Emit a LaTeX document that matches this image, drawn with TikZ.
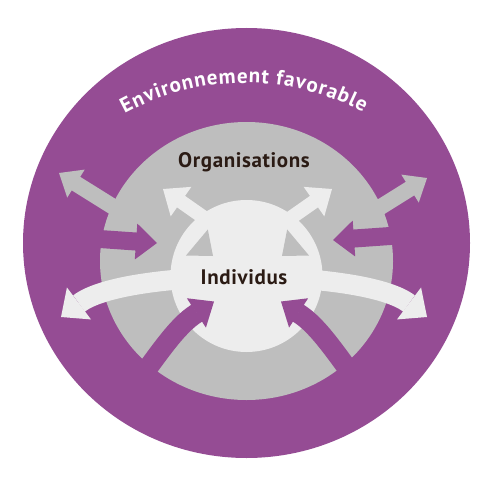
\documentclass[tikz,border=0pt]{standalone}
\usepackage{fontspec}
\setmainfont{PT Sans}
\usetikzlibrary{decorations.text}
\definecolor{purp}{HTML}{954C94}
\definecolor{ring}{HTML}{BEBEBE}
\definecolor{core}{HTML}{EDEDED}
\definecolor{ink}{HTML}{2B1B14}
\tikzset{
  pics/arw/.style n args={5}{code={%
    \fill[#5] (0,0) -- (-#4,#3) -- (-#4,#2) -- (-#1,#2) -- (-#1,-#2) -- (-#4,-#2) -- (-#4,-#3) -- cycle;}},
  lbl/.style={font=\fontsize{21}{25}\selectfont\bfseries\addfontfeatures{LetterSpace=3}, text=ink, inner sep=0pt},
  band/.style={line width=20pt, line cap=butt},
}
\begin{document}
\begin{tikzpicture}[x=1pt,y=1pt]
\useasboundingbox (0,0) rectangle (500,-476);
\fill[white] (0,0) rectangle (500,-476);
% outer environment
\fill[purp] (246.5,-243) ellipse[x radius=223.5, y radius=215];
% outer gray arrows (organisations -> environment)
\pic[rotate=148] at (59,-173) {arw={78}{8}{16.5}{20}{ring}};
\pic[rotate=32] at (427,-178) {arw={78}{8}{16.5}{20}{ring}};
% organisations ring
\fill[ring] (246.5,-261) ellipse[x radius=146.5, y radius=139];
% purple side arrows (environment -> organisations)
\pic[rotate=-4] at (157,-243) {arw={100}{9}{18}{21}{purp}};
\pic[rotate=184] at (333,-240) {arw={100}{9}{18}{21}{purp}};
% gray inner arrows shafts (organisations -> individus)
\pic[rotate=-40] at (213,-256) {arw={70}{7}{17}{21}{ring}};
\pic[rotate=220] at (282,-256) {arw={70}{7}{17}{21}{ring}};
% individus core
\fill[core] (246.5,-276) circle[radius=76];
% gray inner arrow heads
\pic[rotate=-40] at (213,-256) {arw={21}{0}{17}{21}{ring}};
\pic[rotate=220] at (282,-256) {arw={21}{0}{17}{21}{ring}};
% light inner arrows (individus -> organisations)
\pic[rotate=145] at (163,-189) {arw={75}{7}{18}{22}{core}};
\pic[rotate=35] at (332,-189) {arw={75}{7}{18}{22}{core}};
% big light band (individus -> environment)
\draw[core, band] (79,-303.5) .. controls (125,-268) and (363,-268) .. (409,-303.5);
\pic[rotate=217] at (61,-317) {arw={23}{0}{20}{22.5}{core}};
\pic[rotate=-37] at (427,-317) {arw={23}{0}{20}{22.5}{core}};
% bottom purple arrows (environment -> individus)
\draw[purp, band] (128,-395) .. controls (158,-355) and (176,-326) .. (197,-313);
\pic[rotate=33] at (214,-301.5) {arw={22}{0}{17.5}{21}{purp}};
\draw[purp, band] (367,-395) .. controls (337,-355) and (319,-326) .. (298,-313);
\pic[rotate=147] at (281,-301.5) {arw={22}{0}{17.5}{21}{purp}};
% labels
\node[lbl] (org) at (244,-162) {Organisations};
\node[lbl] (ind) at (244,-277) {Individus};
\path[decorate, decoration={text along path, text align={fit to path}, text color=white,
  text={|\fontsize{21}{24}\selectfont\bfseries|Environnement favorable}}]
  (245,-335) ++(118.5:252) arc[start angle=118.5, end angle=62, radius=252];
\end{tikzpicture}
\end{document}
